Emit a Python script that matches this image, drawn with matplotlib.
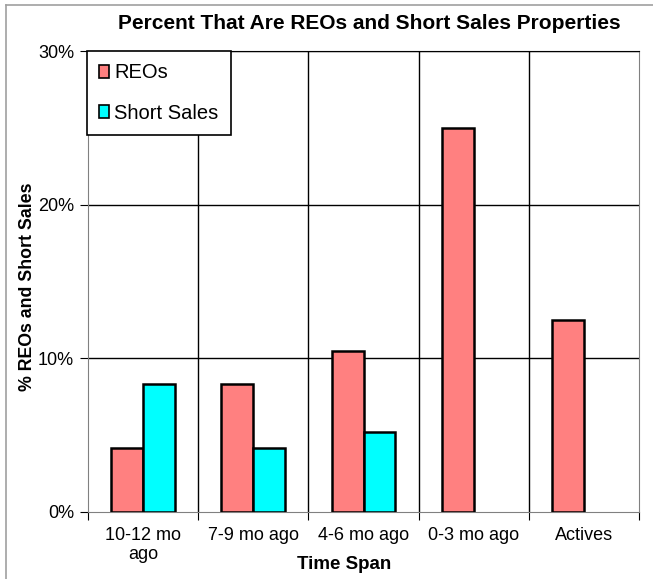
import numpy as np
import matplotlib.pyplot as plt
from matplotlib.lines import Line2D

plt.rcParams['font.family'] = ['Liberation Sans', 'DejaVu Sans']

categories = ['10-12 mo\nago', '7-9 mo ago', '4-6 mo ago', '0-3 mo ago', 'Actives']
reos = [4.17, 8.33, 10.5, 25.0, 12.5]
short_sales = [8.33, 4.17, 5.2, np.nan, np.nan]  # none shown for the last two
yticks = [0, 10, 20, 30]

fig = plt.figure(figsize=(6.53, 5.79), dpi=100)
ax = fig.add_axes([88/653, 1-512/579, 551/653, 461/579])

# outer frame of the chart area (gray)
fig.add_artist(Line2D([6/653, 6/653], [0, 1-5/579], color='#a0a0a0', lw=1.2))
fig.add_artist(Line2D([6/653, 1], [1-5/579, 1-5/579], color='#a0a0a0', lw=1.2))

x = np.arange(len(categories))
w = 0.29
ax.bar(x - w/2, reos, w, color='#ff8080', edgecolor='black', lw=1.8, label='REOs', zorder=3)
ax.bar(x + w/2, short_sales, w, color='#00ffff', edgecolor='black', lw=1.8, label='Short Sales', zorder=3)

ax.set_xlim(-0.5, len(categories) - 0.5)
ax.set_ylim(0, 30)
ax.set_yticks(yticks)
ax.set_yticklabels([f'{t}%' for t in yticks], fontsize=13)
ax.set_xticks(np.arange(len(categories) + 1) - 0.5)
ax.set_xticklabels([])
ax.set_xticks(x, minor=True)
ax.set_xticklabels(categories, minor=True, fontsize=13, linespacing=1.15)
ax.tick_params(axis='x', which='minor', length=0, pad=11)
ax.tick_params(axis='x', which='major', length=6, color='black')
ax.tick_params(axis='y', length=6, color='black', pad=4)

for t in yticks[1:]:
    ax.axhline(t, color='black', lw=1, zorder=1)
for b in np.arange(1, len(categories)) - 0.5:
    ax.axvline(b, color='black', lw=1, zorder=1)

for s in ['left', 'bottom', 'right']:
    ax.spines[s].set_color('#808080')
ax.spines['top'].set_color('black')

ax.set_title('Percent That Are REOs and Short Sales Properties', fontsize=15,
             fontweight='bold', pad=16, x=0.51)
ax.set_xlabel('Time Span', fontsize=13.5, fontweight='bold')
ax.xaxis.set_label_coords(0.465, -0.095)
ax.set_ylabel('% REOs and Short Sales', fontsize=12.8, fontweight='bold')
ax.yaxis.set_label_coords(-0.094, 0.488)

leg = ax.legend(loc='upper left', bbox_to_anchor=(-0.002, 1.0), fontsize=14.5,
                frameon=True, fancybox=False, edgecolor='black', framealpha=1,
                handlelength=0.5, handleheight=0.6, handletextpad=0.25,
                labelspacing=1.05, borderpad=0.62, borderaxespad=0)
leg.get_frame().set_linewidth(1.2)
for h in leg.legend_handles:
    h.set_linewidth(1.2)

fig.savefig('out.png', dpi=100)
